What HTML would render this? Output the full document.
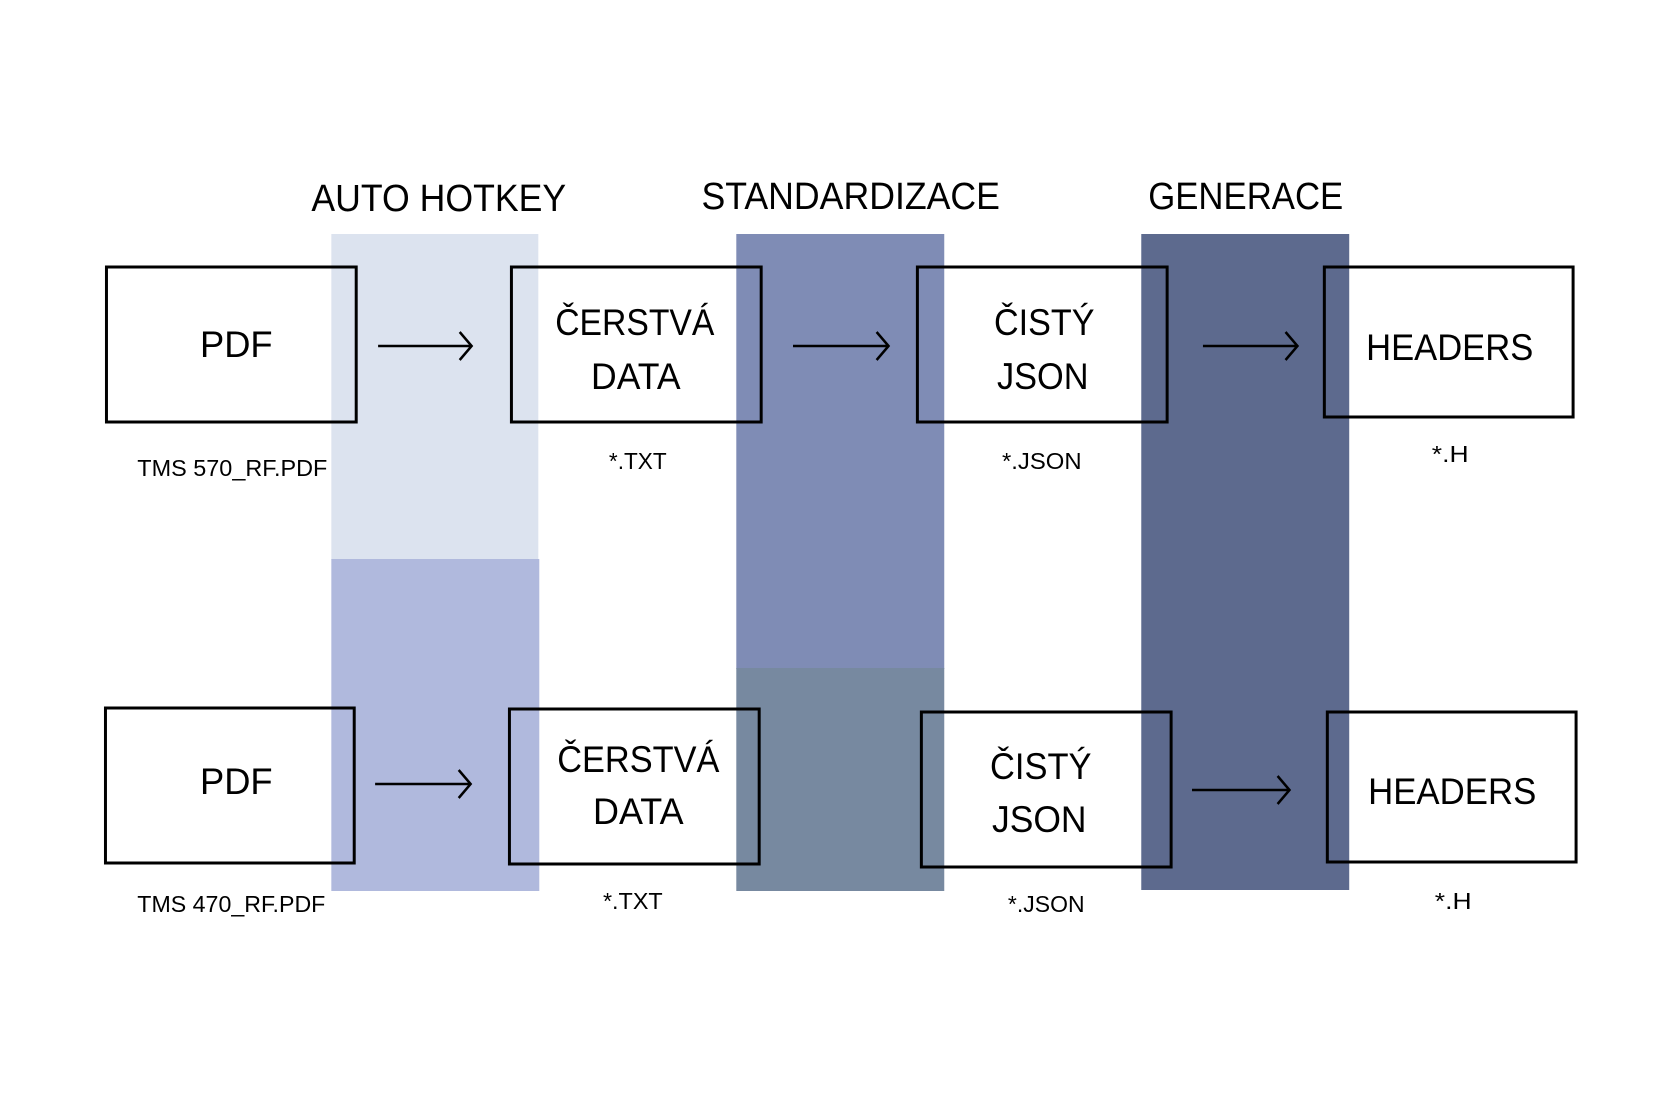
<!DOCTYPE html>
<html><head><meta charset="utf-8"><style>html,body{margin:0;padding:0;background:#fff;}svg{display:block}</style></head>
<body>
<svg width="1654" height="1102" viewBox="0 0 1654 1102" xmlns="http://www.w3.org/2000/svg" font-family="Liberation Sans, sans-serif" fill="#000">
<g transform="translate(0,1) scale(0.995,1)">
<rect x="333" y="233" width="208" height="326" fill="#dce3ef"/>
<rect x="333" y="558" width="209" height="332" fill="#b0b9dd"/>
<rect x="740" y="233" width="209" height="435" fill="#7f8cb5"/>
<rect x="740" y="667" width="209" height="223" fill="#7789a0"/>
<rect x="1147" y="233" width="209" height="656" fill="#5d6a8e"/>
<g transform="translate(0,-2)">
<g fill="none" stroke="#000" stroke-width="3">
<rect x="107" y="268" width="251" height="155"/>
<rect x="514" y="268" width="251" height="155"/>
<rect x="922" y="268" width="251" height="155"/>
<rect x="1331" y="268" width="250" height="150"/>
<rect x="106" y="709" width="250" height="155"/>
<rect x="512" y="710" width="251" height="155"/>
<rect x="926" y="713" width="251" height="155"/>
<rect x="1334" y="713" width="250" height="150"/>
</g>
<g fill="none" stroke="#000" stroke-width="2.5">
<path d="M380 347H473M462 333L474 347L462 361"/>
<path d="M797 347H892M881 333L893 347L881 361"/>
<path d="M1209 347H1303M1292 333L1304 347L1292 361"/>
<path d="M377 785H472M461 771L473 785L461 799"/>
<path d="M1198 791H1295M1284 777L1296 791L1284 805"/>
</g>
<g font-size="38">
<text x="313" y="212" textLength="256" lengthAdjust="spacingAndGlyphs">AUTO HOTKEY</text>
<text x="705" y="210" textLength="300" lengthAdjust="spacingAndGlyphs">STANDARDIZACE</text>
<text x="1154" y="210" textLength="196" lengthAdjust="spacingAndGlyphs">GENERACE</text>
</g>
<g font-size="37">
<text x="201" y="358" textLength="73" lengthAdjust="spacingAndGlyphs">PDF</text>
<text x="558" y="336" textLength="160" lengthAdjust="spacingAndGlyphs">ČERSTVÁ</text>
<text x="594" y="390" textLength="90" lengthAdjust="spacingAndGlyphs">DATA</text>
<text x="999" y="336" textLength="101" lengthAdjust="spacingAndGlyphs">ČISTÝ</text>
<text x="1002" y="390" textLength="92" lengthAdjust="spacingAndGlyphs">JSON</text>
<text x="1373" y="361" textLength="168" lengthAdjust="spacingAndGlyphs">HEADERS</text>
<text x="201" y="795" textLength="73" lengthAdjust="spacingAndGlyphs">PDF</text>
<text x="560" y="773" textLength="163" lengthAdjust="spacingAndGlyphs">ČERSTVÁ</text>
<text x="596" y="825" textLength="91" lengthAdjust="spacingAndGlyphs">DATA</text>
<text x="995" y="780" textLength="102" lengthAdjust="spacingAndGlyphs">ČISTÝ</text>
<text x="997" y="833" textLength="95" lengthAdjust="spacingAndGlyphs">JSON</text>
<text x="1375" y="805" textLength="169" lengthAdjust="spacingAndGlyphs">HEADERS</text>
</g>
<g font-size="23">
<text x="138" y="477" textLength="191" lengthAdjust="spacingAndGlyphs">TMS 570_RF.PDF</text>
<text x="612" y="470" textLength="58" lengthAdjust="spacingAndGlyphs">*.TXT</text>
<text x="1007" y="470" textLength="80" lengthAdjust="spacingAndGlyphs">*.JSON</text>
<text x="1439" y="463" textLength="37" lengthAdjust="spacingAndGlyphs">*.H</text>
<text x="138" y="913" textLength="189" lengthAdjust="spacingAndGlyphs">TMS 470_RF.PDF</text>
<text x="606" y="910" textLength="60" lengthAdjust="spacingAndGlyphs">*.TXT</text>
<text x="1013" y="913" textLength="77" lengthAdjust="spacingAndGlyphs">*.JSON</text>
<text x="1442" y="910" textLength="37" lengthAdjust="spacingAndGlyphs">*.H</text>
</g>
</g>
</g>
</svg>
</body></html>
